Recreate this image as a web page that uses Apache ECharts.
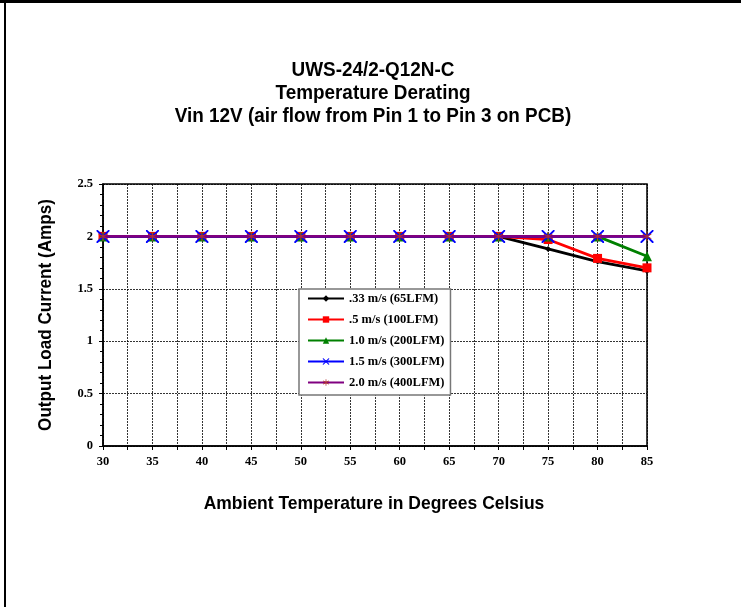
<!DOCTYPE html>
<html>
<head>
<meta charset="utf-8">
<script src="https://cdn.jsdelivr.net/npm/echarts@6/dist/echarts.min.js"></script>
<style>html,body{margin:0;padding:0;background:#fff}#c{width:741px;height:607px}</style>
</head>
<body>
<div id="c"></div>
<script>
var temps = [30, 35, 40, 45, 50, 55, 60, 65, 70, 75, 80, 85];
var s033 = [2, 2, 2, 2, 2, 2, 2, 2, 2, 1.88, 1.76, 1.67];
var s05  = [2, 2, 2, 2, 2, 2, 2, 2, 2, 1.97, 1.79, 1.70];
var s10  = [2, 2, 2, 2, 2, 2, 2, 2, 2, 2, 2, 1.81];
var s15  = [2, 2, 2, 2, 2, 2, 2, 2, 2, 2, 2, 2];
var s20  = [2, 2, 2, 2, 2, 2, 2, 2, 2, 2, 2, 2];
var seriesNames = ['.33 m/s (65LFM)', '.5 m/s (100LFM)', '1.0 m/s (200LFM)', '1.5 m/s (300LFM)', '2.0 m/s (400LFM)'];
var titleLines = ['UWS-24/2-Q12N-C', 'Temperature Derating', 'Vin 12V (air flow from Pin 1 to Pin 3 on PCB)'];
var xName = 'Ambient Temperature in Degrees Celsius';
var yName = 'Output Load Current (Amps)';

function pairs(arr) { return temps.map(function (t, i) { return [t, arr[i]]; }); }

var xPath = 'path://M0,0 L2,0 L10,8 L18,0 L20,0 L20,2 L12,10 L20,18 L20,20 L18,20 L10,12 L2,20 L0,20 L0,18 L8,10 L0,2 Z';
var starPath = 'path://M9,0 L11,0 L11,8 L18,4 L19,6 L12,10 L19,14 L18,16 L11,12 L11,20 L9,20 L9,12 L2,16 L1,14 L8,10 L1,6 L2,4 L9,8 Z';

var serif = "'Liberation Serif', 'Times New Roman', serif";
var sans = "'Liberation Sans', Arial, sans-serif";

var chart = echarts.init(document.getElementById('c'), null, {renderer: 'canvas'});
var defs = [
  {d: s033, c: '#000000', sym: 'diamond', size: 6, w: 2.8},
  {d: s05,  c: '#ff0000', sym: 'rect', size: 9, w: 2.8},
  {d: s10,  c: '#008000', sym: 'triangle', size: 10, w: 2.8},
  {d: s15,  c: '#0000ff', sym: xPath, size: 13, w: 2.8},
  {d: s20,  c: '#800080', sym: starPath, size: 9, w: 2.8}
];
var series = defs.map(function (o, i) {
  return {
    name: seriesNames[i],
    type: 'line',
    data: pairs(o.d),
    symbol: o.sym,
    symbolSize: o.size,
    showAllSymbol: true,
    lineStyle: {color: o.c, width: o.w},
    itemStyle: {color: i === 4 ? '#b03030' : o.c},
    z: 2 + i,
    animation: false
  };
});

var titleY = [70, 93, 116];
var graphics = titleLines.map(function (t, i) {
  return {
    type: 'text',
    x: 373, y: titleY[i],
    scaleX: 0.9,
    style: {text: t, textAlign: 'center', textVerticalAlign: 'middle', fontFamily: sans, fontWeight: 'bold', fontSize: 21, fill: '#000'},
    z: 100
  };
});
graphics.push({type: 'text', x: 374, y: 504, scaleX: 0.92,
  style: {text: xName, textAlign: 'center', textVerticalAlign: 'middle', fontFamily: sans, fontWeight: 'bold', fontSize: 19, fill: '#000'}, z: 100});
graphics.push({type: 'text', x: 46, y: 315, rotation: Math.PI / 2, scaleX: 0.9,
  style: {text: yName, textAlign: 'center', textVerticalAlign: 'middle', fontFamily: sans, fontWeight: 'bold', fontSize: 19, fill: '#000'}, z: 100});
graphics.push({type: 'rect', shape: {x: 0, y: 0, width: 741, height: 3}, style: {fill: '#000'}, z: 100});
graphics.push({type: 'rect', shape: {x: 4, y: 0, width: 2, height: 607}, style: {fill: '#000'}, z: 100});

chart.setOption({
  animation: false,
  grid: {left: 103, right: 94, top: 184, bottom: 161, show: true, borderColor: '#000', borderWidth: 1.5, backgroundColor: 'transparent'},
  legend: {
    orient: 'vertical',
    left: 299,
    top: 289,
    itemWidth: 36,
    itemHeight: 8,
    itemGap: 8,
    padding: [3, 6, 6, 8],
    backgroundColor: '#fff',
    borderColor: '#777',
    borderWidth: 1.5,
    textStyle: {fontFamily: serif, fontWeight: 'bold', fontSize: 12.5, color: '#000'},
    data: seriesNames
  },
  xAxis: {
    type: 'value',
    min: 30, max: 85, interval: 5,
    axisLine: {lineStyle: {color: '#000', width: 1.5}},
    axisTick: {show: true, length: 4, lineStyle: {color: '#000'}},
    minorTick: {show: true, splitNumber: 2, length: 4, lineStyle: {color: '#000'}},
    splitLine: {show: true, lineStyle: {color: '#000', type: [2, 1], width: 0.8}},
    minorSplitLine: {show: true, lineStyle: {color: '#000', type: [2, 1], width: 0.8}},
    axisLabel: {fontFamily: serif, fontWeight: 'bold', fontSize: 12.5, color: '#000', margin: 9}
  },
  yAxis: {
    type: 'value',
    min: 0, max: 2.5, interval: 0.5,
    axisLine: {show: true, lineStyle: {color: '#000', width: 1.5}},
    axisTick: {show: true, length: 4, lineStyle: {color: '#000'}},
    minorTick: {show: true, splitNumber: 5, length: 3, lineStyle: {color: '#000'}},
    splitLine: {show: true, lineStyle: {color: '#000', type: [2, 1], width: 0.8}},
    axisLabel: {fontFamily: serif, fontWeight: 'bold', fontSize: 12.5, color: '#000', margin: 10}
  },
  graphic: graphics,
  series: series
});
</script>
</body>
</html>
